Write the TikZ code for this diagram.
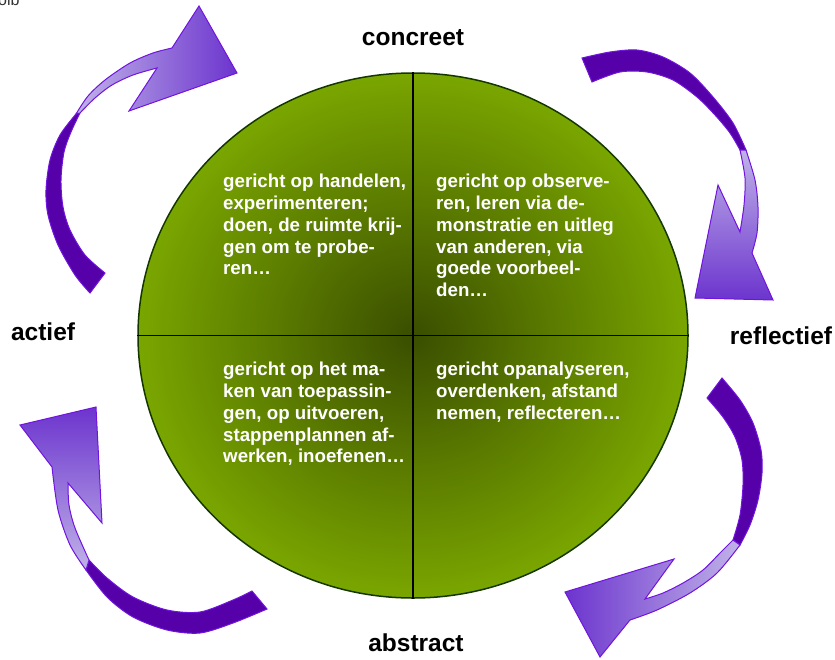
\documentclass[tikz,border=0pt]{standalone}
\usepackage{fontspec}
\setmainfont{Liberation Sans}
\usetikzlibrary{shapes.geometric,positioning}

\definecolor{wheelgreen}{RGB}{122,166,0}
\definecolor{wheeldark}{RGB}{58,78,0}
\definecolor{wheelrim}{RGB}{20,55,0}
\definecolor{arrowdark}{RGB}{85,0,168}
\definecolor{arrowlight}{RGB}{192,178,232}
\definecolor{arrowmid}{RGB}{108,52,206}
\definecolor{arrowrim}{RGB}{112,20,222}

\begin{document}
\begin{tikzpicture}[x=1pt,y=-1pt]
\tikzstyle{wheel}=[ellipse,minimum width=550pt,minimum height=525pt,inner sep=0pt,draw=wheelrim,line width=1.5pt,shade,inner color=wheeldark,outer color=wheelgreen]
\tikzstyle{cross}=[line width=1.5pt,black]
\tikzstyle{field}=[text=white,font=\bfseries\fontsize{18.7}{21.9}\selectfont,align=left,anchor=north west,inner sep=0pt]
\tikzstyle{pole}=[font=\bfseries\fontsize{24.5}{28}\selectfont,inner sep=0pt]
\tikzstyle{rim}=[draw=arrowrim,line width=1pt]
\useasboundingbox (0,0) rectangle (835,659);

\node [wheel] (wheel) at (413,335.5) {};
\draw [cross] (wheel.north) -- (wheel.south);
\draw [cross] (wheel.west) -- (wheel.east);

\node [field] (doen) at (223,173.6) {gericht op handelen,\\experimenteren;\\doen, de ruimte krij-\\gen om te probe-\\ren…};
\node [field] (kijken) at (436,173.6) {gericht op observe-\\ren, leren via de-\\monstratie en uitleg\\van anderen, via\\goede voorbeel-\\den…};
\node [field] (toepassen) at (223,361.6) {gericht op het ma-\\ken van toepassin-\\gen, op uitvoeren,\\stappenplannen af-\\werken, inoefenen…};
\node [field] (denken) at (436,361.6) {gericht opanalyseren,\\overdenken, afstand\\nemen, reflecteren…};

\node [pole,above=26pt of wheel.north] (concreet) {concreet};
\node [pole,below=35pt of wheel.south,xshift=3pt] (abstract) {abstract};
\node [pole,left=62pt of wheel.west,yshift=4pt] (actief) {actief};
\node [pole,right=41pt of wheel.east] (reflectief) {reflectief};
\node [anchor=base east,font=\fontsize{16}{18}\selectfont,text=black!80] (olb) at (23,5) {olb};

\draw [rim,fill=arrowdark] plot[smooth] coordinates {(90,293) (75,275) (58,245) (48,215) (46,190) (50,160) (60,135) (76,114)}
  -- plot[smooth] coordinates {(80,113) (71,132) (64,152) (61,180) (63,207) (70,230) (85,255) (105,273)} -- cycle;
\draw [rim,left color=arrowlight,right color=arrowmid] plot[smooth] coordinates {(76,114) (88,96) (105,80) (130,63) (153,53) (172,48)}
  -- (199,6) -- (237,73) -- (129,111) -- plot[smooth] coordinates {(157,68) (133,75) (112,85) (95,98) (80,113)} -- cycle;

\draw [rim,fill=arrowdark] plot[smooth] coordinates {(582,58) (610,52) (637,50) (663,57) (690,73) (713,97) (733,123) (746,150)}
  -- plot[smooth] coordinates {(740,150) (730,133) (715,115) (697,97) (673,80) (647,72) (620,72) (592,82)} -- cycle;
\draw [rim,top color=arrowlight,bottom color=arrowmid] plot[smooth] coordinates {(746,150) (755,180) (758,207) (757,233) (752,253)}
  -- (773,300) -- (695,298) -- (718,185) -- plot[smooth] coordinates {(740,232) (744,205) (745,178) (740,150)} -- cycle;

\draw [rim,fill=arrowdark] plot[smooth] coordinates {(722,378) (740,400) (753,423) (761,450) (762,473) (758,500) (750,525) (740,545)}
  -- plot[smooth] coordinates {(733,540) (740,515) (743,485) (742,460) (735,437) (723,417) (707,398)} -- cycle;
\draw [rim,left color=arrowmid,right color=arrowlight] plot[smooth] coordinates {(740,545) (717,573) (690,593) (657,610) (630,620)}
  -- (600,657) -- (565,592) -- (674,559) -- plot[smooth] coordinates {(645,599) (663,593) (683,583) (703,570) (720,553) (733,540)} -- cycle;

\draw [rim,fill=arrowdark] plot[smooth] coordinates {(267,609) (233,623) (200,633) (167,630) (133,617) (107,597) (86,570)}
  -- plot[smooth] coordinates {(89,560) (107,578) (133,597) (167,610) (200,612) (233,600) (252,591)} -- cycle;
\draw [rim,top color=arrowmid,bottom color=arrowlight] plot[smooth] coordinates {(86,570) (70,545) (58,510) (52,467)}
  -- (20,425) -- (96,407) -- (102,523) -- plot[smooth] coordinates {(68,483) (69,505) (75,528) (89,560)} -- cycle;
\end{tikzpicture}
\end{document}
